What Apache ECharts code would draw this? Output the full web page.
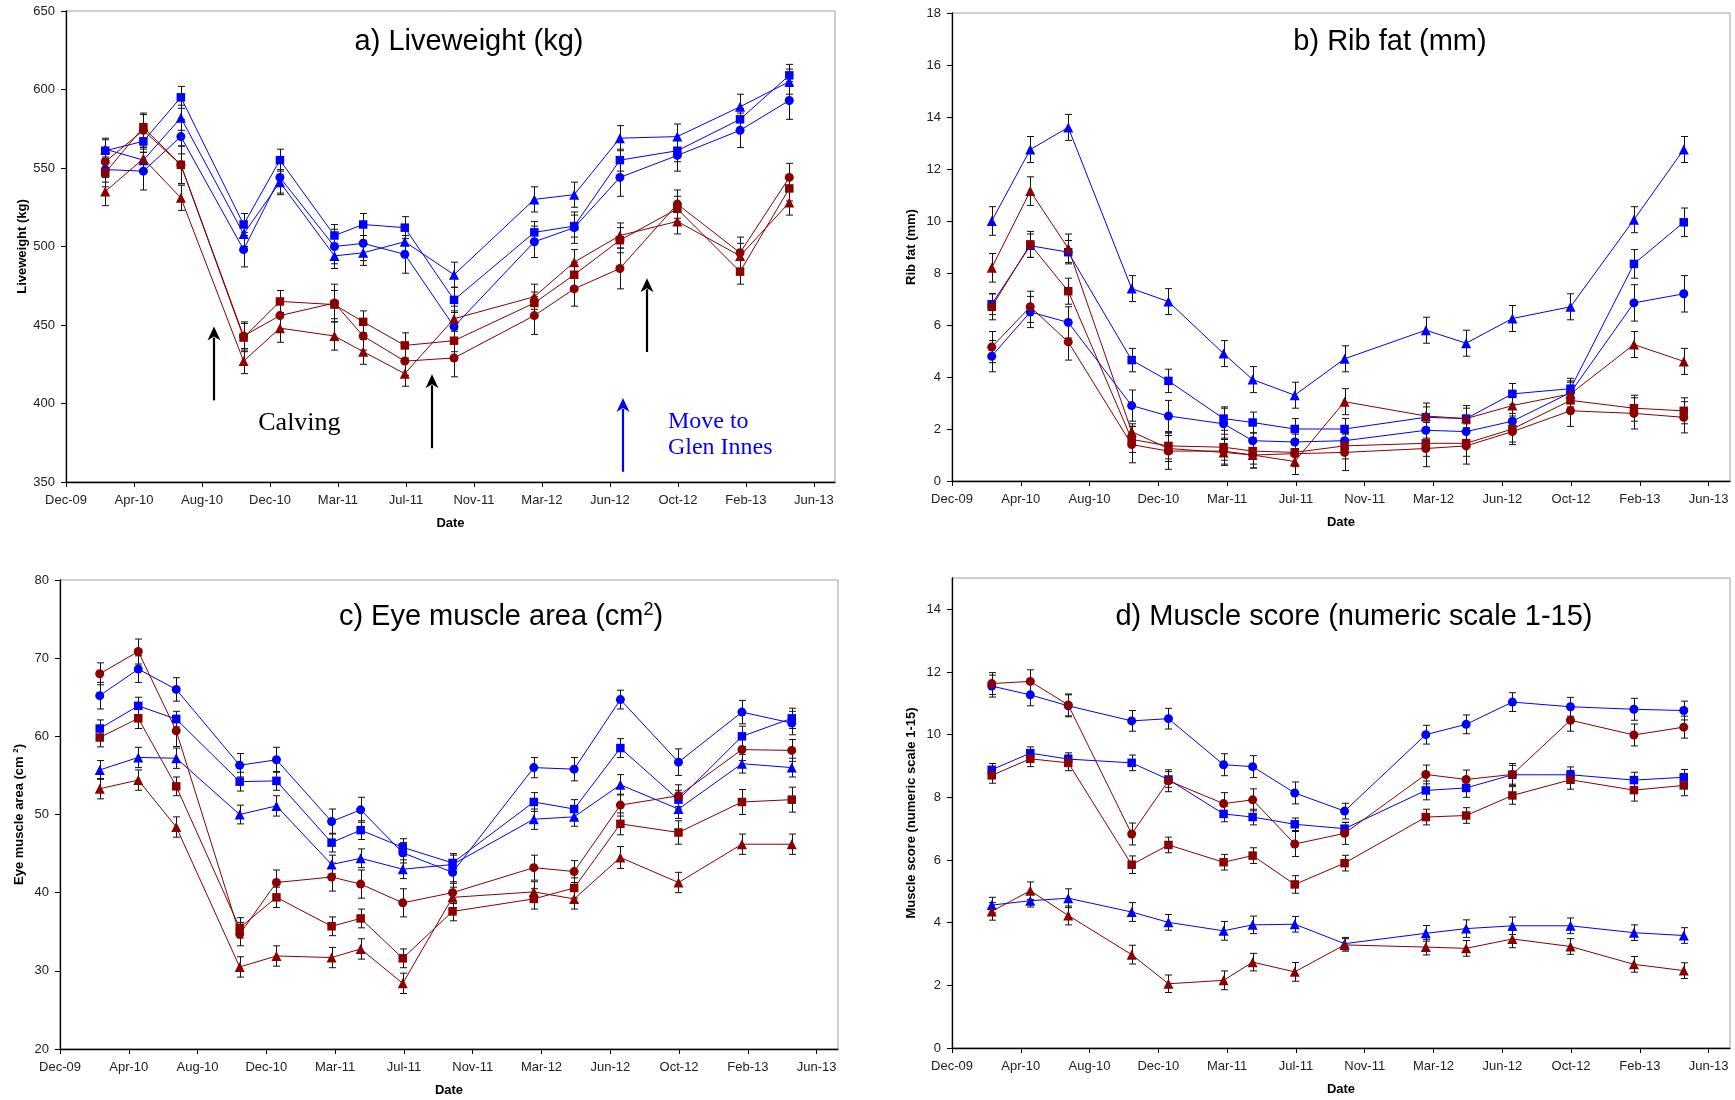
<!DOCTYPE html>
<html>
<head>
<meta charset="utf-8">
<script src="https://cdn.jsdelivr.net/npm/echarts@6/dist/echarts.min.js"></script>
<style>
  html, body { margin: 0; padding: 0; background: #ffffff; }
  #chart { width: 1735px; height: 1100px; }
</style>
</head>
<body>
<div id="chart"></div>
<script>
// ---- Time axis: one tick every 116 days, counted from the Dec-09 tick ----
const tickLabels = ['Dec-09', 'Apr-10', 'Aug-10', 'Dec-10', 'Mar-11', 'Jul-11',
                    'Nov-11', 'Mar-12', 'Jun-12', 'Oct-12', 'Feb-13', 'Jun-13'];
const tickStep = 116;
const axisEnd = 1312;
// measurement days (days after the Dec-09 tick)
const sampleDay = [67, 132, 196, 303, 365, 458, 507, 578, 662, 799, 867, 945, 1043, 1150, 1234];

// ---- a) Liveweight (kg) ----
const lwBlueCircle   = [549, 548, 570, 498, 544, 500, 502, 495, 449, 503, 512, 544, 558, 574, 593];
const lwBlueSquare   = [561, 567, 595, 514, 555, 507, 514, 512, 466, 509, 513, 555, 561, 581, 609];
const lwBlueTriangle = [562, 555, 582, 508, 541, 494, 496, 503, 482, 530, 533, 569, 570, 589, 605];
const lwRedCircle    = [554, 574, 552, 443, 456, 464, 443, 427, 429, 456, 473, 486, 527, 496, 544];
const lwRedSquare    = [547, 576, 552, 442, 465, 463, 452, 437, 440, 464, 482, 504, 524, 484, 537];
const lwRedTriangle  = [535, 556, 531, 427, 448, 443, 433, 419, 454, 468, 490, 507, 516, 494, 528];
const lwBlueCircleSE   = [8, 12, 11, 11, 10, 11, 11, 12, 10, 10, 10, 12, 10, 11, 12];
const lwBlueSquareSE   = [7, 7, 7, 7, 7, 7, 7, 7, 8, 7, 7, 7, 7, 7, 7];
const lwBlueTriangleSE = [7, 7, 8, 8, 8, 8, 8, 8, 8, 8, 8, 8, 8, 8, 8];
const lwRedCircleSE    = [9, 11, 12, 9, 9, 12, 9, 9, 12, 12, 11, 13, 9, 10, 9];
const lwRedSquareSE    = [9, 8, 12, 9, 7, 9, 7, 8, 7, 7, 8, 8, 8, 8, 8];
const lwRedTriangleSE  = [9, 8, 8, 8, 9, 9, 8, 8, 8, 8, 8, 8, 8, 8, 8];

// ---- b) Rib fat (mm) ----
const rfBlueCircle   = [4.8, 6.5, 6.1, 2.9, 2.5, 2.2, 1.55, 1.5, 1.55, 1.95, 1.9, 2.3, 3.4, 6.85, 7.2];
const rfBlueSquare   = [6.8, 9.05, 8.8, 4.65, 3.85, 2.4, 2.25, 2.0, 2.0, 2.45, 2.4, 3.35, 3.55, 8.35, 9.95];
const rfBlueTriangle = [10.0, 12.75, 13.6, 7.4, 6.9, 4.9, 3.9, 3.3, 4.7, 5.8, 5.3, 6.25, 6.7, 10.05, 12.75];
const rfRedCircle    = [5.15, 6.7, 5.35, 1.4, 1.15, 1.15, 1.0, 1.05, 1.1, 1.25, 1.35, 1.9, 2.7, 2.6, 2.45];
const rfRedSquare    = [6.7, 9.1, 7.3, 1.6, 1.35, 1.3, 1.15, 1.1, 1.35, 1.45, 1.45, 2.0, 3.1, 2.8, 2.7];
const rfRedTriangle  = [8.2, 11.15, 8.95, 1.9, 1.25, 1.1, 1.0, 0.75, 3.05, 2.5, 2.4, 2.9, 3.35, 5.25, 4.6];
const rfBlueCircleSE   = [0.6, 0.6, 0.6, 0.6, 0.6, 0.6, 0.3, 0.3, 0.3, 0.3, 0.3, 0.3, 0.4, 0.7, 0.7];
const rfBlueSquareSE   = [0.4, 0.45, 0.45, 0.45, 0.45, 0.45, 0.4, 0.4, 0.4, 0.4, 0.4, 0.4, 0.4, 0.55, 0.55];
const rfBlueTriangleSE = [0.55, 0.5, 0.5, 0.5, 0.5, 0.5, 0.5, 0.5, 0.5, 0.5, 0.5, 0.5, 0.5, 0.5, 0.5];
const rfRedCircleSE    = [0.6, 0.6, 0.7, 0.7, 0.7, 0.5, 0.5, 0.5, 0.7, 0.7, 0.7, 0.5, 0.6, 0.6, 0.6];
const rfRedSquareSE    = [0.5, 0.5, 0.5, 0.5, 0.5, 0.5, 0.5, 0.5, 0.5, 0.5, 0.5, 0.5, 0.5, 0.5, 0.5];
const rfRedTriangleSE  = [0.55, 0.55, 0.55, 0.3, 0.5, 0.5, 0.5, 0.5, 0.5, 0.5, 0.5, 0.5, 0.5, 0.5, 0.5];

// ---- c) Eye muscle area (cm2) ----
const emBlueCircle   = [65.2, 68.6, 66.0, 56.3, 57.0, 49.1, 50.6, 45.1, 42.6, 56.0, 55.8, 64.7, 56.7, 63.1, 61.7];
const emBlueSquare   = [61.0, 63.9, 62.2, 54.2, 54.3, 46.4, 48.0, 45.8, 43.8, 51.6, 50.7, 58.5, 51.9, 60.0, 62.3];
const emBlueTriangle = [55.7, 57.3, 57.2, 50.0, 51.1, 43.6, 44.4, 43.0, 43.6, 49.4, 49.7, 53.8, 50.7, 56.5, 56.0];
const emRedCircle    = [68.0, 70.85, 60.7, 34.7, 41.3, 42.0, 41.1, 38.7, 40.0, 43.2, 42.7, 51.2, 52.4, 58.3, 58.2];
const emRedSquare    = [59.85, 62.3, 53.6, 35.5, 39.4, 35.7, 36.7, 31.6, 37.6, 39.2, 40.6, 48.8, 47.7, 51.6, 51.9];
const emRedTriangle  = [53.3, 54.4, 48.4, 30.5, 31.9, 31.7, 32.8, 28.4, 39.4, 40.1, 39.2, 44.5, 41.3, 46.2, 46.2];
const emBlueCircleSE   = [1.7, 1.7, 1.5, 1.5, 1.6, 1.6, 1.6, 1.3, 1.4, 1.3, 1.5, 1.2, 1.7, 1.5, 1.5];
const emBlueSquareSE   = [1.1, 1.1, 1.0, 1.2, 1.2, 1.2, 1.2, 1.1, 1.2, 1.2, 1.2, 1.2, 1.2, 1.3, 1.3];
const emBlueTriangleSE = [1.2, 1.3, 1.3, 1.2, 1.3, 1.2, 1.2, 1.2, 1.2, 1.3, 1.2, 1.3, 1.2, 1.2, 1.2];
const emRedCircleSE    = [1.4, 1.6, 2.0, 1.5, 1.6, 1.8, 1.8, 1.8, 1.4, 1.6, 1.4, 1.4, 1.4, 1.4, 1.4];
const emRedSquareSE    = [1.2, 1.3, 1.2, 1.3, 1.3, 1.2, 1.2, 1.2, 1.2, 1.3, 1.3, 1.4, 1.5, 1.6, 1.6];
const emRedTriangleSE  = [1.3, 1.3, 1.3, 1.3, 1.3, 1.3, 1.3, 1.3, 1.3, 1.3, 1.3, 1.4, 1.3, 1.3, 1.3];

// ---- d) Muscle score (numeric scale 1-15) ----
const msBlueCircle   = [11.55, 11.27, 10.92, 10.44, 10.51, 9.04, 8.98, 8.14, 7.56, 10.0, 10.33, 11.04, 10.89, 10.81, 10.77];
const msBlueSquare   = [8.88, 9.41, 9.22, 9.10, 8.57, 7.47, 7.37, 7.14, 7.0, 8.22, 8.30, 8.72, 8.72, 8.55, 8.64];
const msBlueTriangle = [4.56, 4.70, 4.78, 4.34, 4.01, 3.74, 3.93, 3.95, 3.33, 3.66, 3.81, 3.90, 3.90, 3.68, 3.59];
const msRedCircle    = [11.63, 11.70, 10.95, 6.83, 8.53, 7.80, 7.92, 6.51, 6.85, 8.73, 8.57, 8.73, 10.46, 9.99, 10.24];
const msRedSquare    = [8.70, 9.23, 9.10, 5.85, 6.48, 5.93, 6.14, 5.22, 5.90, 7.37, 7.42, 8.06, 8.56, 8.23, 8.38];
const msRedTriangle  = [4.36, 5.02, 4.23, 2.98, 2.05, 2.16, 2.74, 2.43, 3.29, 3.22, 3.18, 3.48, 3.24, 2.67, 2.47];
const msBlueCircleSE   = [0.35, 0.35, 0.35, 0.33, 0.33, 0.35, 0.35, 0.35, 0.25, 0.3, 0.3, 0.3, 0.3, 0.35, 0.3];
const msBlueSquareSE   = [0.2, 0.2, 0.2, 0.25, 0.25, 0.25, 0.25, 0.2, 0.2, 0.3, 0.3, 0.3, 0.25, 0.25, 0.25];
const msBlueTriangleSE = [0.25, 0.2, 0.3, 0.3, 0.25, 0.3, 0.28, 0.25, 0.2, 0.25, 0.28, 0.28, 0.25, 0.25, 0.25];
const msRedCircleSE    = [0.35, 0.37, 0.35, 0.35, 0.35, 0.35, 0.35, 0.4, 0.35, 0.3, 0.3, 0.35, 0.35, 0.35, 0.35];
const msRedSquareSE    = [0.25, 0.25, 0.25, 0.28, 0.25, 0.25, 0.25, 0.28, 0.25, 0.25, 0.25, 0.28, 0.3, 0.35, 0.33];
const msRedTriangleSE  = [0.28, 0.28, 0.3, 0.3, 0.28, 0.3, 0.28, 0.3, 0.2, 0.25, 0.25, 0.28, 0.25, 0.25, 0.25];

// ---- drawing ----
const SANS = '"Liberation Sans", Arial, sans-serif';
const SERIF = '"Liberation Serif", "Times New Roman", serif';
const BLUE = '#0000FF';
const RED = '#8B0000';

// marker look of the six groups, in drawing order
const groupStyle = [
  { color: BLUE, symbol: 'circle',   size: 9 },
  { color: BLUE, symbol: 'rect',     size: 8.5 },
  { color: BLUE, symbol: 'triangle', size: 10 },
  { color: RED,  symbol: 'circle',   size: 9 },
  { color: RED,  symbol: 'rect',     size: 8.5 },
  { color: RED,  symbol: 'triangle', size: 10 }
];

const panels = [
  {
    grid: { left: 66, top: 11, width: 769, height: 471 },
    yMin: 350, yMax: 650, yStep: 50, yName: 'Liveweight (kg)',
    title: 'a) Liveweight (kg)', titleX: 469, titleY: 41.5,
    values: [lwBlueCircle, lwBlueSquare, lwBlueTriangle, lwRedCircle, lwRedSquare, lwRedTriangle],
    errors: [lwBlueCircleSE, lwBlueSquareSE, lwBlueTriangleSE, lwRedCircleSE, lwRedSquareSE, lwRedTriangleSE]
  },
  {
    grid: { left: 952, top: 13, width: 778, height: 468 },
    yMin: 0, yMax: 18, yStep: 2, yName: 'Rib fat (mm)',
    title: 'b) Rib fat (mm)', titleX: 1390, titleY: 41.5,
    values: [rfBlueCircle, rfBlueSquare, rfBlueTriangle, rfRedCircle, rfRedSquare, rfRedTriangle],
    errors: [rfBlueCircleSE, rfBlueSquareSE, rfBlueTriangleSE, rfRedCircleSE, rfRedSquareSE, rfRedTriangleSE]
  },
  {
    grid: { left: 60, top: 580, width: 778, height: 469 },
    yMin: 20, yMax: 80, yStep: 10, yName: 'Eye muscle area (cm {sup|2})',
    title: 'c) Eye muscle area (cm{sup|2})', titleX: 501, titleY: 617,
    values: [emBlueCircle, emBlueSquare, emBlueTriangle, emRedCircle, emRedSquare, emRedTriangle],
    errors: [emBlueCircleSE, emBlueSquareSE, emBlueTriangleSE, emRedCircleSE, emRedSquareSE, emRedTriangleSE]
  },
  {
    grid: { left: 952, top: 578, width: 778, height: 470 },
    yMin: 0, yMax: 15, yStep: 2, yName: 'Muscle score (numeric scale 1-15)',
    title: 'd) Muscle score (numeric scale 1-15)', titleX: 1354, titleY: 617,
    values: [msBlueCircle, msBlueSquare, msBlueTriangle, msRedCircle, msRedSquare, msRedTriangle],
    errors: [msBlueCircleSE, msBlueSquareSE, msBlueTriangleSE, msRedCircleSE, msRedSquareSE, msRedTriangleSE]
  }
];

const tickDays = tickLabels.map((_, i) => i * tickStep);

function range(min, max, step) {
  const out = [];
  for (let v = min; v <= max + 1e-9; v += step) out.push(v);
  return out;
}

function errorBarItem(params, api) {
  const x = api.value(0);
  const lo = api.coord([x, api.value(1)]);
  const hi = api.coord([x, api.value(2)]);
  const cx = Math.round(lo[0]) + 0.5;
  const w = 3.5;
  const st = { stroke: '#111111', lineWidth: 1 };
  return {
    type: 'group',
    children: [
      { type: 'line', shape: { x1: cx, y1: lo[1], x2: cx, y2: hi[1] }, style: st },
      { type: 'line', shape: { x1: cx - w, y1: lo[1], x2: cx + w, y2: lo[1] }, style: st },
      { type: 'line', shape: { x1: cx - w, y1: hi[1], x2: cx + w, y2: hi[1] }, style: st }
    ]
  };
}

const grids = [], xAxes = [], yAxes = [], series = [];
const richSup = { sup: { fontSize: 8, fontWeight: 'bold', fontFamily: SANS, verticalAlign: 'top', padding: [0, 0, 6, 0] } };

panels.forEach((p, i) => {
  grids.push(Object.assign({ show: true, borderColor: '#a0a0a0', borderWidth: 1, backgroundColor: 'transparent' }, p.grid));
  xAxes.push({
    type: 'value', gridIndex: i, min: 0, max: axisEnd, interval: tickStep,
    axisLine: { show: true, onZero: false, lineStyle: { color: '#000', width: 1.3 } },
    axisTick: { show: true, length: 5, customValues: tickDays, lineStyle: { color: '#000', width: 1 } },
    axisLabel: {
      customValues: tickDays,
      formatter: v => tickLabels[Math.round(v / tickStep)],
      fontSize: 13, fontFamily: SANS, color: '#222', margin: 12
    },
    splitLine: { show: false },
    name: 'Date', nameLocation: 'middle', nameGap: 35,
    nameTextStyle: { fontSize: 13, fontWeight: 'bold', fontFamily: SANS, color: '#000' }
  });
  const yTicks = range(p.yMin, p.yMax - (p.yMax - p.yMin) % p.yStep, p.yStep);
  yAxes.push({
    type: 'value', gridIndex: i, min: p.yMin, max: p.yMax, interval: p.yStep,
    axisLine: { show: true, onZero: false, lineStyle: { color: '#000', width: 1.3 } },
    axisTick: { show: true, length: 5, customValues: yTicks, lineStyle: { color: '#000', width: 1 } },
    axisLabel: { customValues: yTicks, fontSize: 13, fontFamily: SANS, color: '#222', margin: 11 },
    splitLine: { show: false },
    name: p.yName, nameLocation: 'middle', nameRotate: 90, nameGap: 34,
    nameTextStyle: { fontSize: 13, fontWeight: 'bold', fontFamily: SANS, color: '#000', rich: richSup }
  });

  // error bars first so the markers sit on top of them
  p.values.forEach((vals, g) => {
    const se = p.errors[g];
    series.push({
      type: 'custom', xAxisIndex: i, yAxisIndex: i, silent: true, animation: false, z: 2,
      renderItem: errorBarItem,
      encode: { x: 0, y: [1, 2] },
      data: sampleDay.map((d, k) => [d, vals[k] - se[k], vals[k] + se[k]])
    });
  });
  p.values.forEach((vals, g) => {
    const s = groupStyle[g];
    series.push({
      type: 'line', xAxisIndex: i, yAxisIndex: i, animation: false, z: 3 + g,
      symbol: s.symbol, symbolSize: s.size, showSymbol: true,
      lineStyle: { color: s.color, width: 1 },
      itemStyle: { color: s.color, borderWidth: 0 },
      data: sampleDay.map((d, k) => [d, vals[k]])
    });
  });
});

const chart = echarts.init(document.getElementById('chart'), null, { renderer: 'canvas' });
chart.setOption({
  animation: false,
  backgroundColor: '#ffffff',
  grid: grids, xAxis: xAxes, yAxis: yAxes, series: series
});

// ---- panel titles and the annotations of panel a ----
const graphics = panels.map(p => ({
  type: 'text', x: p.titleX, y: p.titleY, z: 50,
  style: {
    text: p.title, fontSize: 29, fontFamily: SANS, fill: '#000',
    align: 'center', verticalAlign: 'middle',
    rich: { sup: { fontSize: 18, fontFamily: SANS, fill: '#000', verticalAlign: 'top', padding: [0, 0, 14, 0] } }
  }
}));

// arrows in liveweight-panel data units: [day, tail kg, head kg]
const arrows = [
  { at: [252, 402, 449], color: '#000' },
  { at: [624, 371.5, 418.6], color: '#000' },
  { at: [991, 432.8, 479.7], color: '#000' },
  { at: [950, 356.5, 403.5], color: BLUE }
];
const notes = [
  { at: [328, 387.5], text: 'Calving', size: 26, color: '#000' },
  { at: [1027, 388.7], text: 'Move to', size: 24, color: BLUE },
  { at: [1027, 371.8], text: 'Glen Innes', size: 24, color: BLUE }
];

arrows.forEach(a => {
  const tail = chart.convertToPixel({ gridIndex: 0 }, [a.at[0], a.at[1]]);
  const head = chart.convertToPixel({ gridIndex: 0 }, [a.at[0], a.at[2]]);
  const x = Math.round(tail[0]);
  const hl = 14, hw = 6.5;
  graphics.push({
    type: 'line', z: 40,
    shape: { x1: x, y1: tail[1], x2: x, y2: head[1] + hl - 3 },
    style: { stroke: a.color, lineWidth: 2.2 }
  });
  graphics.push({
    type: 'polygon', z: 40,
    shape: { points: [[x, head[1]], [x - hw, head[1] + hl], [x, head[1] + hl - 4], [x + hw, head[1] + hl]] },
    style: { fill: a.color }
  });
});
notes.forEach(n => {
  const pt = chart.convertToPixel({ gridIndex: 0 }, n.at);
  graphics.push({
    type: 'text', x: pt[0], y: pt[1], z: 40,
    style: { text: n.text, fontSize: n.size, fontFamily: SERIF, fill: n.color, align: 'left', verticalAlign: 'middle' }
  });
});

chart.setOption({ graphic: graphics });
</script>
</body>
</html>
